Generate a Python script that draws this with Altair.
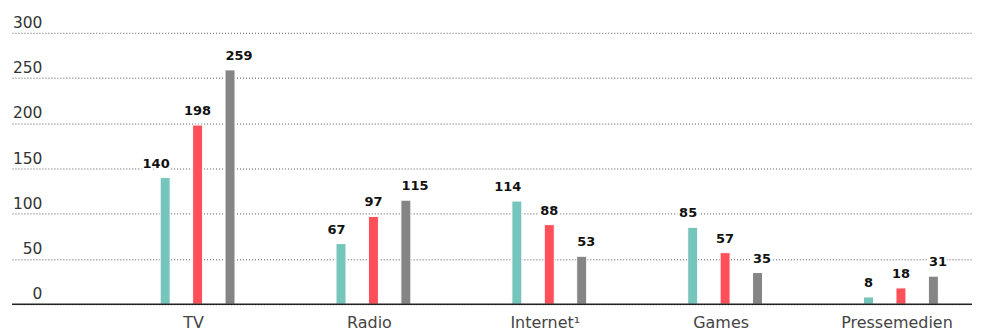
import altair as alt
import pandas as pd

categories = ["TV", "Radio", "Internet¹", "Games", "Pressemedien"]
series = ["Reihe 1", "Reihe 2", "Reihe 3"]
values_s1 = [140, 67, 114, 85, 8]
values_s2 = [198, 97, 88, 57, 18]
values_s3 = [259, 115, 53, 35, 31]
colors = ["#76C5BC", "#FF505A", "#858585"]
y_ticks = [0, 50, 100, 150, 200, 250, 300]

rows = []
for s, vals in zip(series, [values_s1, values_s2, values_s3]):
    for c, v in zip(categories, vals):
        rows.append({"Kategorie": c, "Reihe": s, "Wert": v})
df = pd.DataFrame(rows)

FONT = "DejaVu Sans"

x = alt.X(
    "Kategorie:N",
    sort=categories,
    scale=alt.Scale(paddingInner=0.4467, paddingOuter=0.4532, align=0.8594),
    axis=alt.Axis(
        title=None, ticks=False, domain=False, labelAngle=0, labelPadding=10,
        labelOffset=-4, labelFont=FONT, labelFontSize=16, labelColor="#444",
    ),
)
xo = alt.XOffset("Reihe:N", scale=alt.Scale(domain=series, paddingInner=0, paddingOuter=0))
y = alt.Y(
    "Wert:Q",
    scale=alt.Scale(domain=[0, 300], nice=False, zero=True),
    axis=alt.Axis(
        title=None, values=y_ticks, ticks=False, domain=False, grid=True,
        gridDash=[1, 2], gridColor="#555", gridWidth=1,
        labelAlign="right", labelBaseline="alphabetic", labelPadding=-30,
        labelOffset=-5.5, labelFont=FONT, labelFontSize=15.5, labelColor="#333",
    ),
)
color = alt.Color("Reihe:N", scale=alt.Scale(domain=series, range=colors), legend=None)

base = alt.Chart(df)

bars = base.mark_bar(width=10, stroke="white", strokeWidth=1).encode(
    x=x, xOffset=xo, y=y, color=color
)

layers = [bars]
aligns = ["right", "center", "left"]
dxs = [4.5, 0, -4.5]
for s, al, dx in zip(series, aligns, dxs):
    sub = base.transform_filter(alt.datum.Reihe == s)
    halo = sub.mark_text(
        align=al, baseline="alphabetic", dx=dx, dy=-10, font=FONT, fontSize=13,
        fontWeight="bold", color="white", stroke="white", strokeWidth=5,
        strokeJoin="round",
    ).encode(x=x, xOffset=xo, y=y, text="Wert:Q")
    txt = sub.mark_text(
        align=al, baseline="alphabetic", dx=dx, dy=-10, font=FONT, fontSize=13,
        fontWeight="bold", color="#111",
    ).encode(x=x, xOffset=xo, y=y, text="Wert:Q")
    layers += [halo, txt]

zero_rule = alt.Chart(pd.DataFrame({"Wert": [0]})).mark_rule(
    color="#222", strokeWidth=1.5
).encode(y=alt.Y("Wert:Q"))
layers.append(zero_rule)

chart = alt.layer(*layers).properties(
    width=962, height=272,
    padding={"left": 3, "top": 6.5, "right": 0, "bottom": 0},
).configure_view(stroke=None)

chart.save("out.html", embed_options={"renderer": "svg", "actions": False})
